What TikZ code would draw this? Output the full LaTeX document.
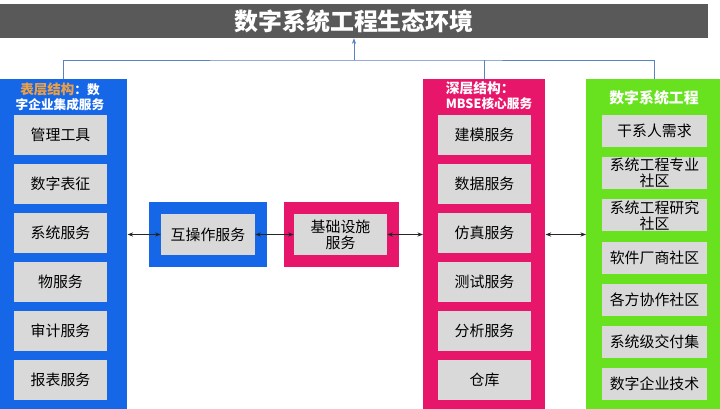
\documentclass[tikz,border=0pt]{standalone}
\usepackage{fontspec}
\setmainfont{Noto Sans CJK SC}
\usetikzlibrary{positioning,arrows.meta}

\definecolor{titlegray}{RGB}{89,89,89}
\definecolor{surfblue}{RGB}{22,102,232}
\definecolor{mbsepink}{RGB}{232,22,106}
\definecolor{dsegreen}{RGB}{104,226,30}
\definecolor{cellgray}{RGB}{217,217,217}
\definecolor{linkblue}{RGB}{90,130,190}
\definecolor{headorange}{RGB}{236,160,70}

\newlength\pxl
\setlength\pxl{0.025cm}

\tikzset{
  panel/.style={anchor=north west, inner sep=0pt, minimum height=333\pxl},
  cell/.style={fill=cellgray, inner sep=0pt, align=center,
    minimum width=93\pxl, minimum height=40\pxl,
    font=\fontsize{10.6}{11.3}\selectfont},
  greencell/.style={cell, minimum width=105\pxl, minimum height=32\pxl},
  head/.style={text=white, inner sep=0pt, font=\bfseries\fontsize{9}{10.6}\selectfont},
  link/.style={draw=black!85, line width=0.5pt,
    {Stealth[length=4pt,width=3pt]}-{Stealth[length=4pt,width=3pt]}},
  toplink/.style={draw=linkblue, line width=0.5pt}
}

\begin{document}
\begin{tikzpicture}[x=1\pxl, y=-1\pxl]
\clip (0,0) rectangle (720,408);
\fill[white] (0,0) rectangle (720,408);

% Barra del titulo
\node[fill=titlegray, text=white, minimum width=708\pxl, minimum height=34\pxl,
  inner sep=0pt, font=\bfseries\fontsize{17}{20}\selectfont] (title) at (354,21)
  {数字系统工程生态环境};

% Columnas grandes
\node[panel, fill=surfblue, minimum width=127\pxl] (surf) at (0,79) {};
\node[panel, fill=mbsepink, minimum width=122\pxl] (mbse) at (423,79) {};
\node[panel, fill=dsegreen, minimum width=136\pxl] (dse) at (586,79) {};

% Cabeceras
\node[head, align=center] (surfhead) at (60,97)
  {{\color{headorange}\fontsize{9.6}{10.6}\selectfont 表层结构}：数\\字企业集成服务};
\node[head, align=left] (mbsehead) at (489,96)
  {{\fontsize{9.8}{10.6}\selectfont 深层结构：}\\MBSE核心服务};
\node[head, font=\bfseries\fontsize{10.6}{12}\selectfont] (dsehead) at (654,98)
  {数字系统工程};

% Celdas grises
\foreach \name [count=\i] in {管理工具,数字表征,系统服务,物服务,审计服务,报表服务}
  \node[cell] (s\i) at (60.5,{135+49*(\i-1)}) {\name};
\foreach \name [count=\i] in {建模服务,数据服务,仿真服务,测试服务,分析服务,仓库}
  \node[cell] (m\i) at (484.5,{135+49*(\i-1)}) {\name};
\foreach \name [count=\i] in {干系人需求,{系统工程专业\\社区},{系统工程研究\\社区},
    软件厂商社区,各方协作社区,系统级交付集,数字企业技术}
  \node[greencell] (d\i) at (654.5,{131+42.2*(\i-1)}) {\name};

% Cajas del medio
\node[fill=surfblue, minimum width=118\pxl, minimum height=65\pxl] (iop) at (208,234.5) {};
\node[cell, minimum width=94\pxl, minimum height=41\pxl] (iopcell) at (iop) {互操作服务};
\node[fill=mbsepink, minimum width=115\pxl, minimum height=65\pxl] (infra) at (341.5,234.5) {};
\node[cell, minimum height=41\pxl] (infracell) at (340.5,234.5) {基础设施\\服务};

% Flechas horizontales
\draw[link] (iopcell.west -| surf.east) -- (iopcell.west);
\draw[link] (iopcell.east) -- (infracell.west);
\draw[link] (infracell.east) -- (infracell.east -| mbse.west);
\draw[link] (infracell.east -| mbse.east) -- (infracell.east -| dse.west);

% Conexion con el titulo
\coordinate (hub) at (354,60);
\draw[toplink] (surf.north) |- (hub) -| (dse.north);
\draw[toplink] (mbse.north) -- (mbse.north |- hub);
\draw[toplink, -{Stealth[length=4pt,width=3pt]}] (hub) -- (title.south);
\end{tikzpicture}
\end{document}
